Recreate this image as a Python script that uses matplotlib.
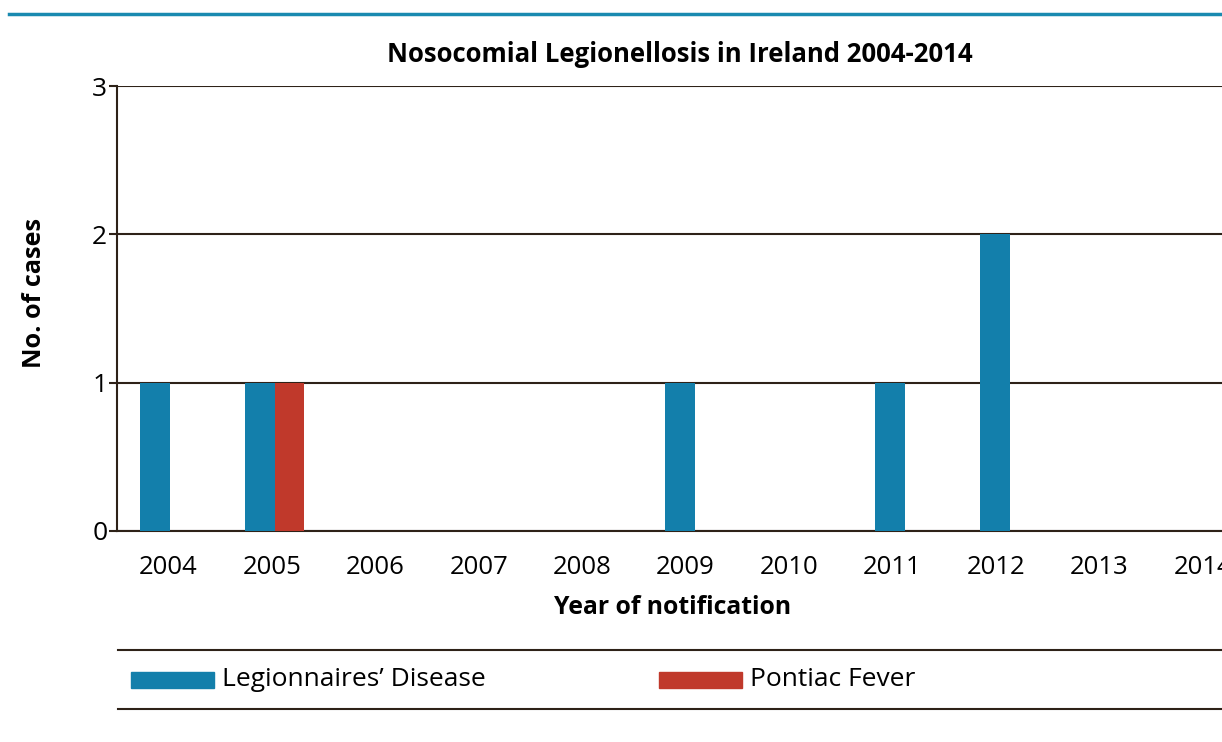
import numpy as np
import matplotlib
matplotlib.use('Agg')
import matplotlib.pyplot as plt
from matplotlib.patches import Rectangle
from matplotlib.lines import Line2D

years = ['2004', '2005', '2006', '2007', '2008', '2009', '2010', '2011', '2012', '2013', '2014']
legionnaires = [1, 1, 0, 0, 0, 1, 0, 1, 2, 0, 0]
pontiac = [0, 1, 0, 0, 0, 0, 0, 0, 0, 0, 0]
series_names = ["Legionnaires\u2019 Disease", 'Pontiac Fever']

BLUE = '#137fab'
RED = '#c0392b'
DARK = '#2e2218'
plt.rcParams['font.family'] = ['Open Sans', 'DejaVu Sans']

W, H = 1222, 742
fig = plt.figure(figsize=(W / 100, H / 100), dpi=100)

def fx(px):
    return px / W

def fy(py):
    return 1 - py / H

# axes run past the right edge like in the original (2014 is cut)
ax = fig.add_axes([fx(117), fy(531), fx(11 * 105), fy(86) - fy(531)])
x = np.arange(len(years))
bw = 0.285
ax.bar(x - bw / 2, legionnaires, bw, color=BLUE, zorder=3)
ax.bar(x + bw / 2, pontiac, bw, color=RED, zorder=3)

ax.set_xlim(-0.5, len(years) - 0.5)
ax.set_ylim(0, 3)
ax.set_yticks([0, 1, 2, 3])
# the original's year labels drift a little left of the bar groups
ax.set_xticks(x * 0.985 - 0.01)
ax.set_xticklabels(years)
ax.grid(axis='y', color=DARK, lw=1.5, zorder=1)
for s in ['top', 'right']:
    ax.spines[s].set_visible(False)
for s in ['left', 'bottom']:
    ax.spines[s].set_color(DARK)
    ax.spines[s].set_linewidth(1.5)
ax.tick_params(axis='y', length=6, width=1.5, color=DARK, labelsize=19, pad=1)
ax.tick_params(axis='x', length=0, labelsize=18.5, pad=17)

fig.text(fx(680), fy(55), 'Nosocomial Legionellosis in Ireland 2004-2014',
         ha='center', va='center', fontsize=18.5, fontweight='bold')
fig.text(fx(673), fy(607), 'Year of notification',
         ha='center', va='center', fontsize=17.8, fontweight='bold')
fig.text(fx(35), fy(293), 'No. of cases', rotation=90,
         ha='center', va='center', fontsize=18.2, fontweight='bold')

# top rule and legend box lines
fig.add_artist(Line2D([fx(9), 1], [fy(14), fy(14)], color='#1a8ab0', lw=2.5))
fig.add_artist(Line2D([fx(118), 1], [fy(650), fy(650)], color=DARK, lw=1.5))
fig.add_artist(Line2D([fx(118), 1], [fy(709), fy(709)], color=DARK, lw=1.5))

# legend
for px, col, name in [(131, BLUE, series_names[0]), (659, RED, series_names[1])]:
    fig.add_artist(Rectangle((fx(px), fy(688)), fx(83), fy(672) - fy(688),
                             color=col, transform=fig.transFigure))
    fig.text(fx(px + 91), fy(680), name, ha='left', va='center', fontsize=19)

fig.savefig('out.png', dpi=100)
